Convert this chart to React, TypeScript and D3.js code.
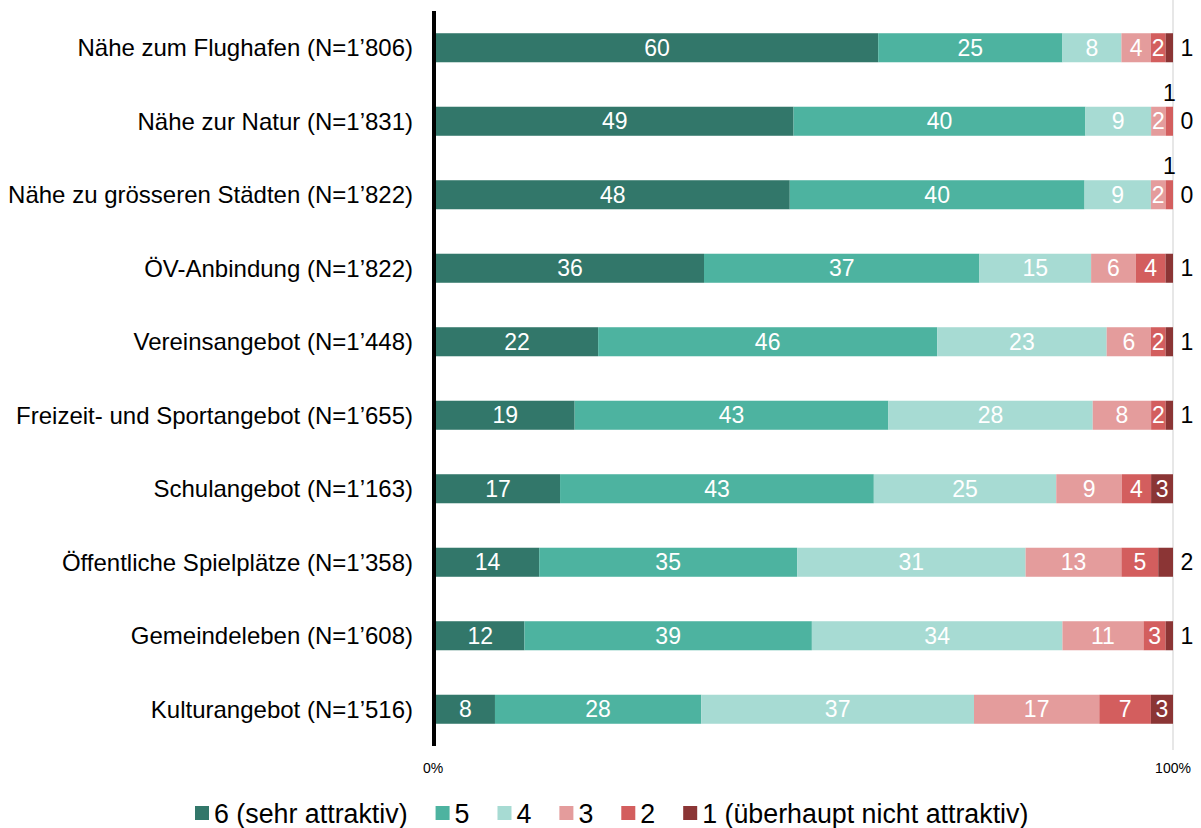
import React from "react";
import * as d3 from "d3";

const categories = [
  "Nähe zum Flughafen (N=1’806)",
  "Nähe zur Natur (N=1’831)",
  "Nähe zu grösseren Städten (N=1’822)",
  "ÖV-Anbindung (N=1’822)",
  "Vereinsangebot (N=1’448)",
  "Freizeit- und Sportangebot (N=1’655)",
  "Schulangebot (N=1’163)",
  "Öffentliche Spielplätze (N=1’358)",
  "Gemeindeleben (N=1’608)",
  "Kulturangebot (N=1’516)",
];

const seriesNames = ["6 (sehr attraktiv)", "5", "4", "3", "2", "1 (überhaupt nicht attraktiv)"];
const seriesColors = ["#32776a", "#4db3a0", "#a7dbd3", "#e49c9c", "#d35e5e", "#8b3535"];

const s6 = [60, 49, 48, 36, 22, 19, 17, 14, 12, 8];
const s5 = [25, 40, 40, 37, 46, 43, 43, 35, 39, 28];
const s4 = [8, 9, 9, 15, 23, 28, 25, 31, 34, 37];
const s3 = [4, 2, 2, 6, 6, 8, 9, 13, 11, 17];
const s2 = [2, 1, 1, 4, 2, 2, 4, 5, 3, 7];
const s1 = [1, 0, 0, 1, 1, 1, 3, 2, 1, 3];

const tickLabels = ["0%", "100%"];

const W = 1201;
const H = 828;
const FONT = "Liberation Sans, Arial, sans-serif";

function measure(text: string, size: number): number {
  const c = document.createElement("canvas").getContext("2d");
  if (!c) return text.length * size * 0.55;
  c.font = `${size}px "Liberation Sans", Arial, sans-serif`;
  return c.measureText(text).width;
}

export default function App() {
  const series = [s6, s5, s4, s3, s2, s1];
  const x = d3.scaleLinear().domain([0, 1]).range([436, 1173]);
  const y = d3
    .scaleBand<string>()
    .domain(categories)
    .range([11, 746])
    .paddingInner(0.605)
    .paddingOuter(0.3025);
  const bw = y.bandwidth();

  const rows = categories.map((cat, i) => {
    const vals = series.map((s) => s[i]);
    const total = d3.sum(vals);
    let cum = 0;
    const segs = vals.map((v, k) => {
      const x0 = cum / total;
      cum += v;
      const x1 = cum / total;
      return { v, k, x0, x1 };
    });
    return { cat, segs };
  });

  // legend layout
  const legFont = 26.8;
  const sq = 14;
  let lx = 195;
  const legend = seriesNames.map((name, k) => {
    const item = { name, k, x: lx };
    lx += sq + 5 + measure(name, legFont) + 28;
    return item;
  });

  const valFont = 23;

  return (
    <svg width={W} height={H} style={{ display: "block", position: "absolute", left: 0, top: 0 }} fontFamily={FONT}>
      <rect width={W} height={H} fill="#fff" />
      <line x1={x(1)} x2={x(1)} y1={0} y2={750} stroke="#cfcfcf" strokeWidth={1} />
      {rows.map((r) => {
        const yTop = y(r.cat)!;
        const yc = yTop + bw / 2;
        return (
          <g key={r.cat}>
            <text x={413} y={yc} dy="0.35em" textAnchor="end" fontSize={24} fill="#000">
              {r.cat}
            </text>
            {r.segs.map((s) => (
              <rect
                key={s.k}
                x={x(s.x0)}
                y={yTop}
                width={Math.max(0, x(s.x1) - x(s.x0))}
                height={bw}
                fill={seriesColors[s.k]}
              />
            ))}
            {r.segs.map((s) => {
              const cx = (x(s.x0) + x(s.x1)) / 2;
              const last = s.k === seriesNames.length - 1;
              if (last && s.v < 3) {
                return (
                  <text key={"l" + s.k} x={x(1) + 14} y={yc} dy="0.35em" textAnchor="middle" fontSize={valFont} fill="#000">
                    {s.v}
                  </text>
                );
              }
              if (s.v < 2) {
                return (
                  <text key={"l" + s.k} x={cx} y={yTop - 6} textAnchor="middle" fontSize={valFont} fill="#000">
                    {s.v}
                  </text>
                );
              }
              return (
                <text key={"l" + s.k} x={cx} y={yc} dy="0.35em" textAnchor="middle" fontSize={valFont} fill="#fff">
                  {s.v}
                </text>
              );
            })}
          </g>
        );
      })}
      <rect x={432} y={11} width={4} height={735} fill="#000" />
      {tickLabels.map((t, i) => (
        <text key={t} x={i === 0 ? 433 : x(1)} y={768} dy="0.35em" textAnchor="middle" fontSize={14} fill="#000">
          {t}
        </text>
      ))}
      {legend.map((l) => (
        <g key={l.name}>
          <rect x={l.x} y={806} width={sq} height={sq} fill={seriesColors[l.k]} />
          <text x={l.x + sq + 5} y={814} dy="0.35em" fontSize={legFont} fill="#000">
            {l.name}
          </text>
        </g>
      ))}
    </svg>
  );
}
